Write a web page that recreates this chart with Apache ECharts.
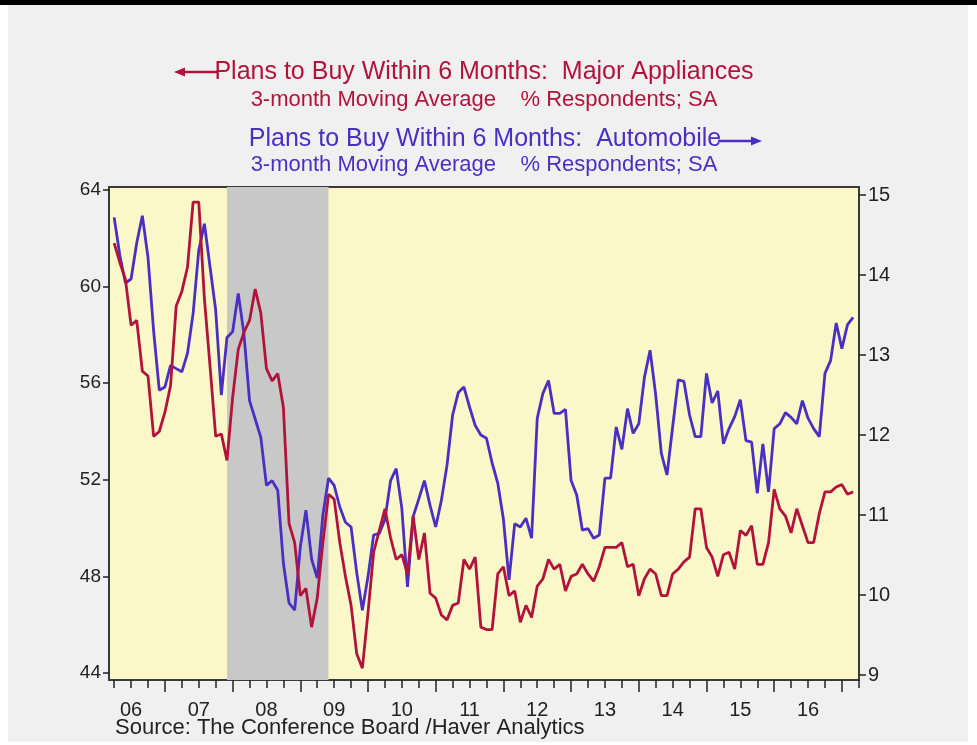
<!DOCTYPE html>
<html><head><meta charset="utf-8">
<script src="https://cdn.jsdelivr.net/npm/echarts@6/dist/echarts.min.js"></script>
<style>html,body{margin:0;padding:0;background:#ffffff;}#c{width:977px;height:745px;}</style>
</head><body><div id="c"></div>
<script>
// Monthly data, Apr 2006 .. Mar 2017 (3-month moving averages)
const firstYear = 2006, firstMonth = 4; // April 2006
const appliances = [61.8,61.0,60.3,58.4,58.6,56.5,56.3,53.8,54.0,54.8,55.9,59.2,59.8,60.8,63.5,63.5,59.5,56.7,53.8,53.9,
52.8,55.4,57.4,58.1,58.6,59.9,58.9,56.6,56.1,56.4,55.0,50.2,49.4,47.2,47.5,45.9,47.1,49.4,51.4,51.2,
49.4,48.0,46.8,44.8,44.2,46.5,49.0,49.9,50.8,49.6,48.7,48.9,48.1,50.5,48.7,49.8,47.3,47.1,46.4,46.2,
46.8,46.9,48.7,48.3,48.8,45.9,45.8,45.8,48.1,48.4,47.2,47.4,46.1,46.8,46.3,47.6,47.9,48.7,48.3,48.5,
47.4,48.0,48.1,48.5,48.1,47.8,48.4,49.2,49.2,49.2,49.4,48.4,48.5,47.2,47.9,48.3,48.1,47.2,47.2,48.1,
48.3,48.6,48.8,50.8,50.8,49.2,48.8,48.0,48.9,49.0,48.3,49.9,49.7,50.1,48.5,48.5,49.4,51.6,50.8,50.5,
49.8,50.8,50.1,49.4,49.4,50.6,51.5,51.5,51.7,51.8,51.4,51.5];
const automobiles = [14.72,14.25,13.9,13.95,14.4,14.74,14.22,13.3,12.56,12.6,12.87,12.83,12.79,13.02,13.52,14.31,14.64,14.1,13.56,12.5,
13.22,13.29,13.77,13.27,12.43,12.2,11.97,11.37,11.43,11.31,10.4,9.9,9.81,10.6,11.06,10.45,10.21,11.0,11.46,11.37,
11.1,10.91,10.85,10.28,9.81,10.23,10.75,10.77,10.94,11.43,11.58,11.08,10.1,10.98,11.2,11.43,11.12,10.85,11.18,11.62,
12.25,12.53,12.6,12.35,12.12,12.0,11.96,11.65,11.4,10.95,10.19,10.89,10.85,10.96,10.71,12.21,12.52,12.68,12.27,12.27,
12.32,11.43,11.25,10.81,10.83,10.71,10.75,11.46,11.46,12.1,11.82,12.33,12.02,12.14,12.72,13.06,12.5,11.77,11.5,12.1,
12.69,12.67,12.25,11.98,11.98,12.77,12.4,12.55,11.89,12.08,12.23,12.44,11.93,11.91,11.27,11.89,11.29,12.08,12.14,12.28,
12.22,12.14,12.43,12.21,12.08,11.98,12.77,12.93,13.4,13.08,13.38,13.47];
const yearLabels = ['06','07','08','09','10','11','12','13','14','15','16'];
const leftTicks = [44,48,52,56,60,64];
const rightTicks = [9,10,11,12,13,14,15];
const recession = [2007 + 11/12, 2009 + 5/12]; // Dec 2007 - Jun 2009

const RED = '#b2133c', BLUE = '#4a2fc2';
const FONT = '"Liberation Sans", Arial, sans-serif';
const XMIN = 2006.174, XMAX = 2017.253;

const monthTime = i => firstYear + (firstMonth - 1 + i) / 12;
const redData = appliances.map((v, i) => [monthTime(i), v]);
const blueData = automobiles.map((v, i) => [monthTime(i), v]);
const quarterTicks = [];
for (let q = 2006.25; q <= 2017.26; q += 0.25) quarterTicks.push(+q.toFixed(2));
const yearTicks = [];
for (let y = 2007; y <= 2017; y++) yearTicks.push(y);
const labelPos = yearLabels.map(s => 2000 + parseInt(s, 10) + 0.5);

const hiddenX = gi => ({type:'value', gridIndex:gi, min:XMIN, max:XMAX, show:false});

const chart = echarts.init(document.getElementById('c'), null, {renderer:'canvas'});
chart.setOption({
  animation:false,
  backgroundColor:'#ffffff',
  grid:[
    {left:109, right:118, top:187, bottom:65, show:true, backgroundColor:'#faf8c8', borderColor:'#3a3a3a', borderWidth:2, containLabel:false},
    {left:109, right:118, top:190, bottom:72, show:false},
    {left:109, right:118, top:195, bottom:70, show:false}
  ],
  xAxis:[
    {type:'value', gridIndex:0, position:'bottom', min:XMIN, max:XMAX, axisLine:{show:false}, splitLine:{show:false},
     axisTick:{show:true, customValues:quarterTicks, length:8, lineStyle:{color:'#222', width:1.5}},
     axisLabel:{show:true, customValues:labelPos, margin:20, fontSize:20, fontFamily:FONT, color:'#222',
       formatter:v => yearLabels[Math.round(v - 0.5) - 2006]}},
    {type:'value', gridIndex:0, position:'bottom', min:XMIN, max:XMAX, axisLine:{show:false}, splitLine:{show:false},
     axisTick:{show:true, customValues:yearTicks, length:12, lineStyle:{color:'#222', width:1.5}},
     axisLabel:{show:false}},
    hiddenX(1), hiddenX(2)
  ],
  yAxis:[
    {type:'value', gridIndex:0, min:0, max:1, show:false},
    {type:'value', gridIndex:1, min:leftTicks[0], max:leftTicks[leftTicks.length-1], interval:4, position:'left',
     axisLine:{show:false}, splitLine:{show:false},
     axisTick:{show:true, length:6, lineStyle:{color:'#222', width:1.5}},
     axisLabel:{margin:8, fontSize:19, fontFamily:FONT, color:'#222'}},
    {type:'value', gridIndex:2, min:rightTicks[0], max:rightTicks[rightTicks.length-1], interval:1, position:'right',
     axisLine:{show:false}, splitLine:{show:false},
     axisTick:{show:true, length:7, lineStyle:{color:'#222', width:1.5}},
     axisLabel:{margin:9, fontSize:20, fontFamily:FONT, color:'#222'}}
  ],
  series:[
    {type:'line', xAxisIndex:0, yAxisIndex:0, data:[], silent:true, z:1,
     markArea:{silent:true, itemStyle:{color:'#c8c8c8'}, data:[[{xAxis:recession[0]},{xAxis:recession[1]}]]}},
    {name:'Automobile', type:'line', xAxisIndex:3, yAxisIndex:2, data:blueData, showSymbol:false, z:3,
     lineStyle:{color:BLUE, width:2.8}, itemStyle:{color:BLUE}},
    {name:'Major Appliances', type:'line', xAxisIndex:2, yAxisIndex:1, data:redData, showSymbol:false, z:4,
     lineStyle:{color:RED, width:2.8}, itemStyle:{color:RED}}
  ],
  graphic:[
    {type:'rect', z:-100, silent:true, shape:{x:8, y:5, width:960, height:737}, style:{fill:'#f0f0f0'}},
    {type:'rect', shape:{x:0, y:0, width:977, height:5}, style:{fill:'#000'}},
    {type:'line', shape:{x1:182, y1:72, x2:218, y2:72}, style:{stroke:RED, lineWidth:2.5}},
    {type:'polygon', shape:{points:[[174,72],[185,67.5],[185,76.5]]}, style:{fill:RED}},
    {type:'text', x:484, y:72, style:{text:'Plans to Buy Within 6 Months:  Major Appliances', font:'25px ' + FONT, fill:RED, align:'center', verticalAlign:'middle'}},
    {type:'text', x:484, y:100, style:{text:'3-month Moving Average    % Respondents; SA', font:'22px ' + FONT, fill:RED, align:'center', verticalAlign:'middle'}},
    {type:'text', x:485, y:139, style:{text:'Plans to Buy Within 6 Months:  Automobile', font:'25px ' + FONT, fill:BLUE, align:'center', verticalAlign:'middle'}},
    {type:'line', shape:{x1:718, y1:141, x2:754, y2:141}, style:{stroke:BLUE, lineWidth:2.5}},
    {type:'polygon', shape:{points:[[762,141],[751,136.5],[751,145.5]]}, style:{fill:BLUE}},
    {type:'text', x:484, y:165, style:{text:'3-month Moving Average    % Respondents; SA', font:'22px ' + FONT, fill:BLUE, align:'center', verticalAlign:'middle'}},
    {type:'text', x:115, y:728, style:{text:'Source: The Conference Board /Haver Analytics', font:'22px ' + FONT, fill:'#222', align:'left', verticalAlign:'middle'}}
  ]
});
</script></body></html>
